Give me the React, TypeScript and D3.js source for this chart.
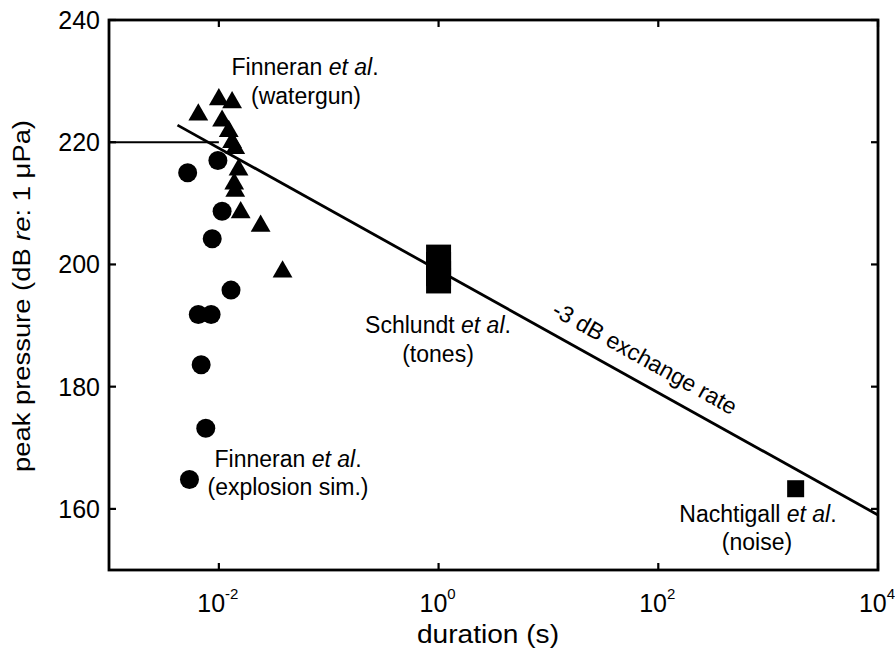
import * as d3 from "d3";

// watergun (triangles), explosion sim. (circles), tones (tall block), noise (square)
const watergunDur = [0.0065, 0.01, 0.0132, 0.0107, 0.0123, 0.0132, 0.0141, 0.0151, 0.0138, 0.0141, 0.0158, 0.024, 0.038];
const watergunPk = [224.5, 227, 226.5, 223.5, 221.8, 220, 219, 215.5, 213.2, 212, 208.5, 206.3, 198.8];

const explosionDur = [0.0052, 0.0098, 0.0107, 0.0087, 0.0129, 0.0065, 0.0085, 0.0069, 0.0076, 0.0054];
const explosionPk = [215, 217, 208.7, 204.2, 195.8, 191.8, 191.8, 183.6, 173.2, 164.8];

const tonesDur = [1, 1, 1, 1];
const tonesPk = [197.3, 198.5, 200, 201.2];

const noiseDur = [1780];
const noisePk = [163.3];

// -3 dB exchange rate line endpoints and the 220 dB flat segment
const rateLine = [
  { t: 0.0042, p: 222.8 },
  { t: 10000, p: 159 },
];
const flatLine = [
  { t: 0.001, p: 220 },
  { t: 0.01, p: 220 },
];

const xTicks = [0.01, 1, 100, 10000];
const xTickExp = ["-2", "0", "2", "4"];
const yTicks = [160, 180, 200, 220, 240];

const W = 895;
const H = 651;
const font = "'Liberation Sans', Arial, Helvetica, sans-serif";

export default function App() {
  const x = d3.scaleLog().domain([0.001, 10000]).range([109, 878]);
  const y = d3.scaleLinear().domain([150, 240]).range([570, 20]);
  const [x0, x1] = x.range();
  const [y0, y1] = y.range();

  const line = d3
    .line<{ t: number; p: number }>()
    .x((d) => x(d.t))
    .y((d) => y(d.p));

  const tri = d3.symbol().type(d3.symbolTriangle).size(170)()!;
  const sq = 25;
  const nsq = 17;

  const ann = { fontFamily: font, fontSize: 23, fill: "#000", textAnchor: "middle" as const };

  // angle of the exchange line in screen space
  const ang =
    (Math.atan2(y(rateLine[1].p) - y(rateLine[0].p), x(rateLine[1].t) - x(rateLine[0].t)) * 180) / Math.PI;

  return (
    <svg width={W} height={H} style={{ position: "absolute", left: 0, top: 0, background: "#fff" }}>
      <rect width={W} height={H} fill="#fff" />

      {/* lines */}
      <path d={line(flatLine)!} stroke="#000" strokeWidth={2} fill="none" />
      <path d={line(rateLine)!} stroke="#000" strokeWidth={2.8} fill="none" />

      {/* markers */}
      {explosionDur.map((t, i) => (
        <circle key={"c" + i} cx={x(t)} cy={y(explosionPk[i])} r={9.5} fill="#000" />
      ))}
      {watergunDur.map((t, i) => (
        <path key={"t" + i} d={tri} transform={`translate(${x(t)},${y(watergunPk[i])})`} fill="#000" />
      ))}
      {tonesDur.map((t, i) => (
        <rect key={"s" + i} x={x(t) - sq / 2} y={y(tonesPk[i]) - sq / 2} width={sq} height={sq} fill="#000" />
      ))}
      {noiseDur.map((t, i) => (
        <rect key={"n" + i} x={x(t) - nsq / 2} y={y(noisePk[i]) - nsq / 2} width={nsq} height={nsq} fill="#000" />
      ))}

      {/* frame */}
      <rect x={x0} y={y1} width={x1 - x0} height={y0 - y1} fill="none" stroke="#000" strokeWidth={2.8} />
      {yTicks.map((v) => (
        <g key={"yt" + v}>
          <line x1={x0} x2={x0 + 7} y1={y(v)} y2={y(v)} stroke="#000" strokeWidth={2.2} />
          <line x1={x1} x2={x1 - 7} y1={y(v)} y2={y(v)} stroke="#000" strokeWidth={2.2} />
          <text x={x0 - 9} y={y(v) + 9} textAnchor="end" fontFamily={font} fontSize={25}>
            {v}
          </text>
        </g>
      ))}
      {xTicks.map((v, i) => (
        <g key={"xt" + v}>
          <line x1={x(v)} x2={x(v)} y1={y0} y2={y0 - 7} stroke="#000" strokeWidth={2.2} />
          <line x1={x(v)} x2={x(v)} y1={y1} y2={y1 + 7} stroke="#000" strokeWidth={2.2} />
          <text x={x(v) - 1} y={y0 + 42} textAnchor="middle" fontFamily={font} fontSize={25}>
            10
            <tspan fontSize={15} dy={-13}>
              {xTickExp[i]}
            </tspan>
          </text>
        </g>
      ))}

      {/* axis titles */}
      <text
        x={488}
        y={643}
        textAnchor="middle"
        fontFamily={font}
        fontSize={25}
        textLength={142}
        lengthAdjust="spacingAndGlyphs"
      >
        duration (s)
      </text>
      <text
        transform="translate(30,296) rotate(-90)"
        textAnchor="middle"
        fontFamily={font}
        fontSize={23}
        textLength={352}
        lengthAdjust="spacingAndGlyphs"
      >
        peak pressure (dB <tspan fontStyle="italic">re</tspan>: 1 μPa)
      </text>

      {/* annotations */}
      <text x={305} y={75} {...ann}>
        Finneran <tspan fontStyle="italic">et al</tspan>.
      </text>
      <text x={306} y={104} {...ann}>
        (watergun)
      </text>
      <text x={288} y={467} {...ann}>
        Finneran <tspan fontStyle="italic">et al</tspan>.
      </text>
      <text x={288} y={495} {...ann}>
        (explosion sim.)
      </text>
      <text x={438} y={333} {...ann}>
        Schlundt <tspan fontStyle="italic">et al</tspan>.
      </text>
      <text x={438} y={362} {...ann}>
        (tones)
      </text>
      <text x={758} y={522} {...ann}>
        Nachtigall <tspan fontStyle="italic">et al</tspan>.
      </text>
      <text x={757} y={550} {...ann}>
        (noise)
      </text>
      <text transform={`translate(641,365) rotate(${ang})`} {...ann}>
        -3 dB exchange rate
      </text>
    </svg>
  );
}
